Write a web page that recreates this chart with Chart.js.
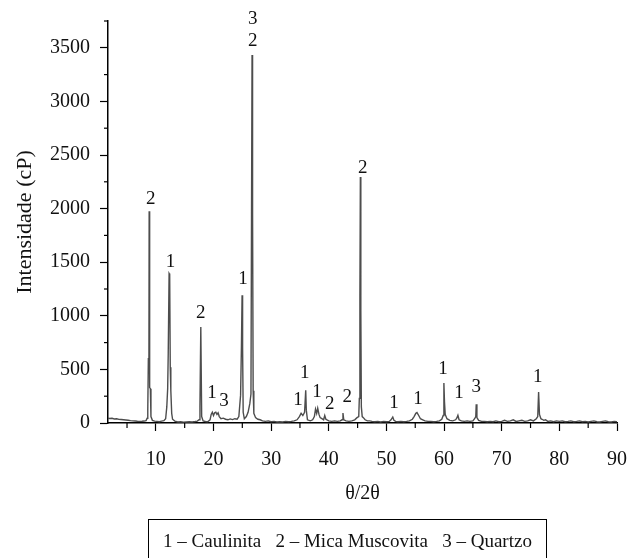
<!DOCTYPE html>
<html>
<head>
<meta charset="utf-8">
<script src="https://cdn.jsdelivr.net/npm/chart.js@4"></script>
<style>
  html, body { margin: 0; padding: 0; background: #fff; }
  #wrap { position: relative; width: 640px; height: 558px; }
  #legendBox {
    position: absolute; left: 148px; top: 519px; width: 399px; height: 39px;
    box-sizing: border-box; border: 1.5px solid #000; border-bottom: none;
    font: 19px "Liberation Serif", "DejaVu Serif", serif; color: #111;
    text-align: center; line-height: 42px; white-space: pre;
  }
</style>
</head>
<body>
<div id="wrap">
  <canvas id="xrd" width="640" height="558"></canvas>
  <div id="legendBox">1 – Caulinita   2 – Mica Muscovita   3 – Quartzo</div>
</div>
<script>
// ── Diffractogram ──────────────────────────────────────────────────────────
const twoTheta = [
  1.7, 2.0, 2.4, 2.8, 3.2, 3.6, 4.0, 4.4, 4.8, 5.2,
  5.6, 6.0, 6.4, 6.8, 7.2, 7.6, 8.0, 8.3, 8.5, 8.6,
  8.7, 8.8, 8.84, 8.9, 8.95, 9.05, 9.15, 9.4, 9.8, 10.2,
  10.6, 11.0, 11.4, 11.7, 11.9, 12.05, 12.15, 12.3, 12.4, 12.5,
  12.6, 12.75, 12.9, 13.3, 13.8, 14.3, 14.8, 15.3, 15.8, 16.3,
  16.8, 17.2, 17.5, 17.65, 17.8, 17.95, 18.2, 18.6, 19.0, 19.4,
  19.6, 19.8, 20.0, 20.2, 20.4, 20.6, 20.8, 21.0, 21.3, 21.7,
  22.1, 22.5, 22.9, 23.3, 23.7, 24.1, 24.4, 24.7, 24.85, 24.96,
  25.05, 25.15, 25.35, 25.7, 26.0, 26.3, 26.5, 26.6, 26.69, 26.78,
  26.88, 27.0, 27.3, 27.7, 28.1, 28.5, 29.0, 29.5, 30.0, 30.5,
  31.0, 31.5, 32.0, 32.5, 33.0, 33.5, 34.0, 34.5, 34.9, 35.2,
  35.5, 35.8, 36.0, 36.1, 36.3, 36.8, 37.2, 37.5, 37.7, 37.9,
  38.08, 38.3, 38.5, 38.8, 39.1, 39.3, 39.5, 40.0, 40.5, 41.0,
  41.5, 42.0, 42.3, 42.46, 42.6, 43.0, 43.5, 44.0, 44.5, 44.9,
  45.2, 45.3, 45.4, 45.48, 45.56, 45.65, 45.8, 46.0, 46.3, 46.7,
  47.1, 47.5, 48.0, 48.5, 49.0, 49.5, 50.0, 50.5, 50.8, 51.1,
  51.3, 51.6, 52.0, 52.5, 53.0, 53.5, 54.0, 54.5, 54.8, 55.1,
  55.3, 55.6, 55.9, 56.3, 56.7, 57.2, 57.7, 58.2, 58.7, 59.2,
  59.6, 59.85, 59.97, 60.07, 60.2, 60.5, 61.0, 61.5, 62.0, 62.2,
  62.4, 62.6, 63.0, 63.5, 64.0, 64.5, 65.0, 65.3, 65.5, 65.58,
  65.7, 66.0, 66.5, 67.0, 67.5, 68.0, 68.5, 69.0, 69.5, 70.0,
  70.5, 71.0, 71.5, 72.0, 72.5, 73.0, 73.5, 74.0, 74.5, 75.0,
  75.5, 76.0, 76.25, 76.4, 76.55, 76.8, 77.0, 77.3, 77.6, 78.0,
  78.5, 79.0, 79.5, 80.0, 80.5, 81.0, 81.5, 82.0, 82.5, 83.0,
  83.5, 84.0, 84.5, 85.0, 85.5, 86.0, 86.5, 87.0, 87.5, 88.0,
  88.5, 89.0, 89.5, 90.0
];
const counts = [
  45, 42, 44, 38, 40, 34, 32, 30, 28, 26,
  22, 20, 18, 16, 15, 16, 18, 22, 45, 120,
  600, 610, 1975, 1960, 330, 320, 60, 25, 18, 15,
  12, 18, 22, 40, 150, 320, 650, 1395, 1385, 520,
  300, 90, 35, 18, 10, 12, 8, 10, 12, 10,
  14, 18, 30, 150, 896, 60, 20, 14, 12, 30,
  80, 100, 70, 95, 100, 80, 95, 60, 40, 45,
  35, 30, 38, 32, 40, 35, 60, 260, 720, 1192,
  700, 100, 40, 60, 100, 180, 270, 1950, 3433, 1950,
  300, 90, 50, 35, 30, 20, 15, 20, 12, 15,
  10, 12, 10, 15, 12, 15, 20, 30, 60, 90,
  70, 100, 305, 120, 30, 20, 30, 60, 130, 90,
  137, 80, 50, 40, 30, 70, 35, 20, 15, 20,
  15, 20, 30, 93, 30, 20, 15, 20, 30, 50,
  60, 230, 1180, 2294, 1050, 150, 60, 50, 30, 20,
  20, 15, 12, 15, 10, 15, 12, 15, 30, 56,
  25, 15, 12, 15, 12, 15, 20, 35, 60, 90,
  97, 70, 40, 30, 20, 15, 15, 12, 15, 20,
  35, 70, 373, 200, 80, 40, 25, 20, 30, 45,
  72, 30, 20, 15, 20, 15, 20, 40, 60, 175,
  50, 25, 15, 15, 12, 15, 12, 20, 12, 15,
  25, 15, 20, 30, 15, 20, 25, 15, 20, 30,
  20, 40, 60, 290, 80, 40, 35, 25, 30, 15,
  20, 12, 20, 15, 20, 12, 15, 20, 12, 15,
  20, 12, 15, 10, 15, 20, 12, 10, 15, 20,
  12, 10, 15, 12
];

// phase labels over the peaks (1 caulinita, 2 mica muscovita, 3 quartzo)
const peakLabels  = ['2', '3', '2', '1', '2', '1', '3', '1', '1', '1', '1', '2', '2', '2', '1', '1', '1', '1', '3', '1'];
const labelTheta  = [9.13, 26.8, 26.8, 12.55, 17.8, 19.76, 21.84, 25.13, 34.66, 35.82, 37.95, 40.16, 43.2, 45.9, 51.3, 55.46, 59.8, 62.57, 65.58, 76.26];
const labelCounts = [2089, 3770, 3567, 1503, 1024, 277, 205, 1342, 212, 467, 289, 175, 243, 2375, 190, 228, 508, 280, 336, 429];

// axis ticks
const xMajorTicks = [10, 20, 30, 40, 50, 60, 70, 80, 90];
const xMinorTicks = [5, 15, 25, 35, 45, 55, 65, 75, 85];
const yMajorTicks = [0, 500, 1000, 1500, 2000, 2500, 3000, 3500];
const yMinorTicks = [250, 750, 1250, 1750, 2250, 2750, 3250, 3750];

const SERIF = '"Liberation Serif", "DejaVu Serif", serif';

// ── Plugins ────────────────────────────────────────────────────────────────
const minorTicks = {
  id: 'minorTicks',
  afterDraw(chart) {
    const { ctx, scales: { x, y } } = chart;
    ctx.save();
    ctx.strokeStyle = '#000';
    ctx.lineWidth = 1.2;
    xMinorTicks.forEach(v => {
      const px = x.getPixelForValue(v);
      ctx.beginPath(); ctx.moveTo(px, x.top); ctx.lineTo(px, x.top + 5); ctx.stroke();
    });
    yMinorTicks.forEach(v => {
      const py = y.getPixelForValue(v);
      ctx.beginPath(); ctx.moveTo(y.right, py); ctx.lineTo(y.right - 4, py); ctx.stroke();
    });
    ctx.restore();
  }
};

const phaseLabels = {
  id: 'phaseLabels',
  afterDatasetsDraw(chart) {
    const { ctx, scales: { x, y } } = chart;
    ctx.save();
    ctx.fillStyle = '#111';
    ctx.font = '19px ' + SERIF;
    ctx.textAlign = 'center';
    ctx.textBaseline = 'middle';
    peakLabels.forEach((t, i) => {
      ctx.fillText(t, x.getPixelForValue(labelTheta[i]), y.getPixelForValue(labelCounts[i]));
    });
    ctx.restore();
  }
};

// ── Chart ──────────────────────────────────────────────────────────────────
new Chart(document.getElementById('xrd').getContext('2d'), {
  type: 'line',
  data: {
    datasets: [{
      data: twoTheta.map((t, i) => ({ x: t, y: counts[i] })),
      borderColor: '#4d4d4d',
      borderWidth: 1.4,
      pointRadius: 0,
      tension: 0,
      fill: false,
    }],
  },
  options: {
    responsive: false,
    animation: false,
    layout: { padding: { left: 0, right: 23, top: 21, bottom: 35 } },
    plugins: { legend: { display: false }, tooltip: { enabled: false } },
    scales: {
      x: {
        type: 'linear',
        min: 1.7,
        max: 90,
        afterBuildTicks: (s) => { s.ticks = xMajorTicks.map(v => ({ value: v })); },
        afterFit: (s) => { s.height = 100; s.paddingLeft = 0; s.paddingRight = 0; },
        border: { color: '#000', width: 1.5 },
        grid: { drawOnChartArea: false, tickLength: 8, tickColor: '#000', tickWidth: 1.2 },
        ticks: { color: '#111', font: { family: SERIF, size: 20 }, padding: 17, maxRotation: 0, autoSkip: false, callback: (v) => String(v) },
        title: { display: true, text: 'θ/2θ', color: '#111', font: { family: SERIF, size: 20 }, padding: { top: 0, bottom: 17 } },
      },
      y: {
        min: 0,
        max: 3750,
        afterBuildTicks: (s) => { s.ticks = yMajorTicks.map(v => ({ value: v })); },
        afterFit: (s) => { s.width = 108; s.paddingTop = 0; s.paddingBottom = 0; },
        border: { color: '#000', width: 1.5 },
        grid: { drawOnChartArea: false, tickLength: 8, tickColor: '#000', tickWidth: 1.2 },
        ticks: { color: '#111', font: { family: SERIF, size: 20 }, padding: 10, autoSkip: false, callback: (v) => String(v) },
        title: { display: true, text: 'Intensidade (cP)', color: '#111', font: { family: SERIF, size: 22 }, padding: { top: 12, bottom: 0 } },
      },
    },
  },
  plugins: [minorTicks, phaseLabels],
});
</script>
</body>
</html>
